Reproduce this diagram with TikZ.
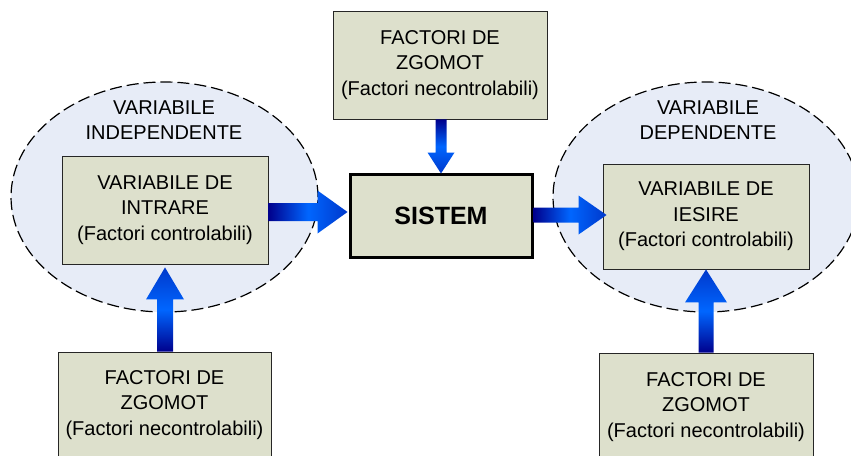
\documentclass[tikz,border=0pt]{standalone}
\usepackage{fontspec}
\setmainfont{Liberation Sans}
\usetikzlibrary{calc,shapes.geometric}

\definecolor{boxfill}{RGB}{221,224,204}
\definecolor{ellfill}{RGB}{231,236,247}
\definecolor{arrdark}{RGB}{0,0,140}
\definecolor{arrlight}{RGB}{0,102,255}

\tikzset{
  fbox/.style={draw=black!85, line width=0.9pt, fill=boxfill, align=center,
    inner sep=0pt, font=\fontsize{20}{25.5}\selectfont},
  sysbox/.style={draw=black, line width=3pt, fill=boxfill, inner sep=0pt,
    font=\fontsize{25}{30}\selectfont\bfseries},
  group/.style={ellipse, draw=black, line width=1.2pt, dash pattern=on 12pt off 5pt,
    fill=ellfill, inner sep=0pt},
  grplabel/.style={align=center, inner sep=0pt, font=\fontsize{20}{25}\selectfont},
}

% fat shaded arrow pointing right: tail, tip, shaft half-width, head half-width, head length
\newcommand\fatright[5]{%
  \shade[left color=arrdark, right color=arrdark!45!arrlight, middle color=arrlight]
    ($(#1)+(0,#3)$) -- ($(#2)+(-#5,#3)$) -- ($(#2)+(-#5,#4)$) -- (#2)
    -- ($(#2)+(-#5,-#4)$) -- ($(#2)+(-#5,-#3)$) -- ($(#1)+(0,-#3)$) -- cycle;}
% fat shaded arrow pointing up (y grows downward)
\newcommand\fatup[5]{%
  \shade[bottom color=arrdark, top color=arrdark!45!arrlight, middle color=arrlight]
    ($(#1)+(#3,0)$) -- ($(#2)+(#3,#5)$) -- ($(#2)+(#4,#5)$) -- (#2)
    -- ($(#2)+(-#4,#5)$) -- ($(#2)+(-#3,#5)$) -- ($(#1)+(-#3,0)$) -- cycle;}
% fat shaded arrow pointing down
\newcommand\fatdown[5]{%
  \shade[top color=arrdark, bottom color=arrdark!45!arrlight, middle color=arrlight]
    ($(#1)+(#3,0)$) -- ($(#2)+(#3,-#5)$) -- ($(#2)+(#4,-#5)$) -- (#2)
    -- ($(#2)+(-#4,-#5)$) -- ($(#2)+(-#3,-#5)$) -- ($(#1)+(-#3,0)$) -- cycle;}

\begin{document}
\begin{tikzpicture}[x=1pt, y=-1pt]
  \useasboundingbox (0,0) rectangle (851,455);
  \clip (0,0) rectangle (851,455);
  \fill[white] (0,0) rectangle (851,455);

  % dashed groups
  \node[group, minimum width=307pt, minimum height=230pt] (grpL) at (164.5,197) {};
  \node[group, minimum width=306pt, minimum height=230pt] (grpR) at (706,197) {};
  \node[grplabel] (lblL) at (164,120) {VARIABILE\\INDEPENDENTE};
  \node[grplabel] (lblR) at (708,120) {VARIABILE\\DEPENDENTE};

  % boxes
  \node[fbox, minimum width=206pt, minimum height=108pt] (inL) at (165,210)
    {VARIABILE DE\\INTRARE\\(Factori controlabili)};
  \node[fbox, minimum width=206pt, minimum height=105pt] (inR) at (706,216.5)
    {VARIABILE DE\\IESIRE\\(Factori controlabili)};
  \node[fbox, minimum width=214pt, minimum height=108pt] (topF) at (440,65)
    {FACTORI DE\\ZGOMOT\\(Factori necontrolabili)};
  \node[fbox, minimum width=213pt, minimum height=106pt] (botL) at (164.5,405)
    {FACTORI DE\\ZGOMOT\\(Factori necontrolabili)};
  \node[fbox, minimum width=214pt, minimum height=108pt] (botR) at (706,407)
    {FACTORI DE\\ZGOMOT\\(Factori necontrolabili)};
  \node[sysbox, minimum width=182pt, minimum height=83pt] (sys) at (441,215.5) {SISTEM};

  % arrow end points
  \coordinate (h1) at (0,212);
  \coordinate (h2) at (0,215);
  \coordinate (a1s) at (inL.east |- h1);
  \coordinate (a1t) at ($(sys.west |- h1)+(-1,0)$);
  \coordinate (a2s) at (sys.east |- h2);
  \coordinate (a2t) at ($(inR.west |- h2)+(4,0)$);
  \coordinate (a3s) at (topF.south -| sys.north);
  \coordinate (a3t) at ($(sys.north)+(0,1)$);
  \coordinate (a4s) at (botL.north -| inL.south);
  \coordinate (a4t) at ($(inL.south)+(0,3)$);
  \coordinate (a5s) at (botR.north -| inR.south);
  \coordinate (a5t) at (inR.south);

  % connectors
  \fatright{a1s}{a1t}{9}{21.5}{30}
  \fatright{a2s}{a2t}{7.5}{19.5}{28}
  \fatdown{a3s}{a3t}{5.5}{13.5}{21}
  \fatup{a4s}{a4t}{8}{19}{32}
  \fatup{a5s}{a5t}{7.5}{21}{33}
\end{tikzpicture}
\end{document}
